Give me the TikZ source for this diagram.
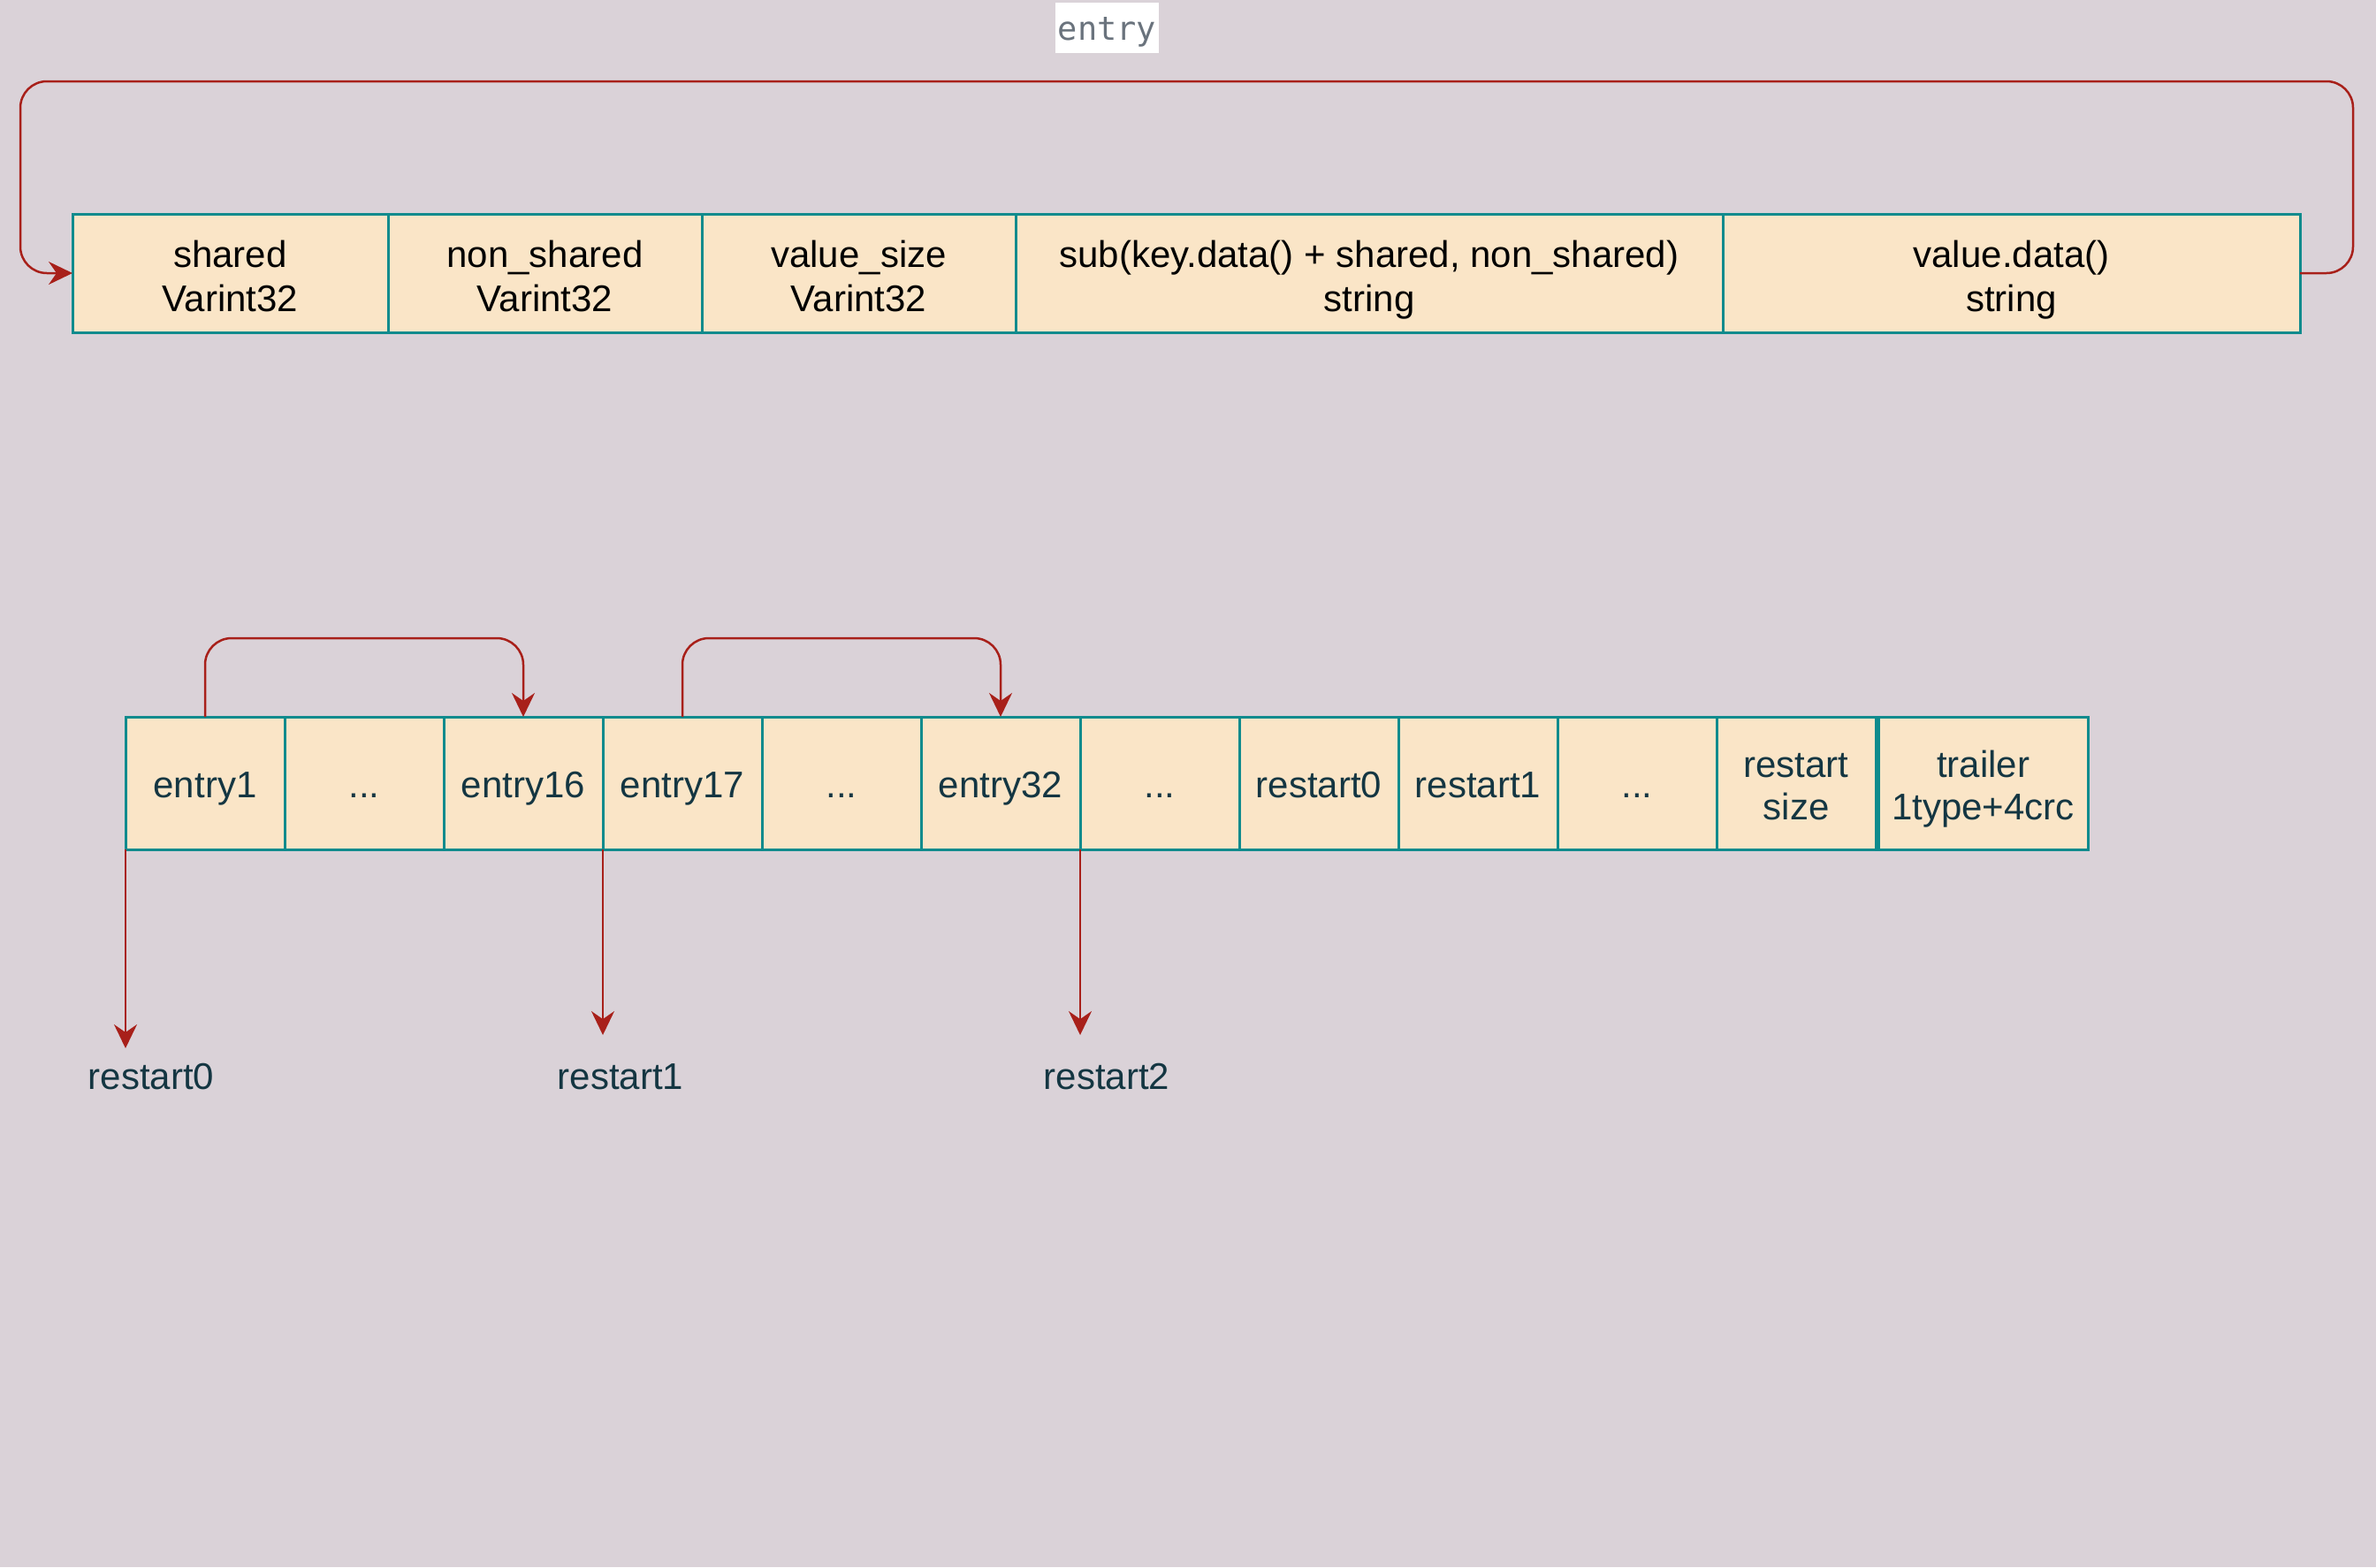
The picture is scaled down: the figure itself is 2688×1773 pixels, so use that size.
\documentclass[tikz,border=0pt]{standalone}
\usepackage{fontspec}
\setmainfont{Liberation Sans}
\newfontfamily\monofnt{DejaVu Sans Mono}
\usetikzlibrary{arrows.meta}
\definecolor{bgc}{HTML}{DAD2D8}
\definecolor{cellfill}{HTML}{FAE5C7}
\definecolor{cellline}{HTML}{0F8B8D}
\definecolor{fontc}{HTML}{143642}
\definecolor{edgec}{HTML}{A8201A}
\definecolor{monoc}{HTML}{6A737D}
\tikzset{
  cellbox/.style={rectangle, draw=cellline, fill=cellfill, line width=3pt, inner sep=0pt, outer sep=0pt,
    align=center, minimum height=#1},
  twotop/.style={font=\fontsize{42}{50}\selectfont, text height=86pt, text depth=0pt},
  twobot/.style={font=\fontsize{42}{48}\selectfont, text height=82pt, text depth=0pt},
  oneline/.style={font=\fontsize{42}{49}\selectfont, text height=32pt, text depth=0pt},
  topcell/.style={cellbox=134pt, text=black, twotop},
  botcell/.style={cellbox=150pt, text=fontc, minimum width=180pt, oneline},
  arr/.style={draw=edgec, line width=2.5pt, -{Stealth[length=27pt, width=26pt, inset=9pt]}},
  lbl/.style={text=fontc, font=\fontsize{42}{49}\selectfont, inner sep=0pt, anchor=base},
}
\begin{document}
\begin{tikzpicture}[x=1pt, y=-1pt]
\fill[bgc] (0,0) rectangle (2688,1773);
\useasboundingbox (0,0) rectangle (2688,1773);

% entry label
\node[fill=white, text=monoc, font=\monofnt\fontsize{37}{44}\selectfont, minimum width=117pt, minimum height=57pt, inner sep=0pt, text height=27pt, text depth=0pt] (lab) at (1252.5,31.5) {entry};

% top row
\node[topcell, minimum width=357pt] (shared) at (260.5,309) {shared\\Varint32};
\node[topcell, minimum width=355pt] (nonsh) at (616.5,309) {non\_shared\\Varint32};
\node[topcell, minimum width=355pt] (vsize) at (971.5,309) {value\_size\\Varint32};
\node[topcell, minimum width=800pt] (sub) at (1549,309) {sub(key.data() + shared, non\_shared)\\string};
\node[topcell, minimum width=653pt] (val) at (2275.5,309) {value.data()\\string};

\coordinate (tr) at (2662,92);
\coordinate (tl) at (23,92);
\draw[arr, rounded corners=30pt] (val.east) -| (tr) -- (tl) |- (shared.west);

% bottom row
\node[botcell] (e1)  at (232,886) {entry1};
\node[botcell] (d1)  at (412,886) {...};
\node[botcell] (e16) at (592,886) {entry16};
\node[botcell] (e17) at (772,886) {entry17};
\node[botcell] (d2)  at (952,886) {...};
\node[botcell] (e32) at (1132,886) {entry32};
\node[botcell] (d3)  at (1312,886) {...};
\node[botcell] (r0)  at (1492,886) {restart0};
\node[botcell] (r1)  at (1672,886) {restart1};
\node[botcell] (d4)  at (1852,886) {...};
\node[botcell, twobot] (rs)  at (2032,886) {restart\\size};
\node[botcell, twobot, minimum width=237pt] (tra) at (2243.5,886) {trailer\\1type+4crc};

\draw[arr, rounded corners=30pt] (e1.north) -- ++(0,-89) -| (e16.north);
\draw[arr, rounded corners=30pt] (e17.north) -- ++(0,-89) -| (e32.north);

\coordinate (a0) at (142,1186);
\coordinate (a1) at (682,1171);
\coordinate (a2) at (1222,1171);
\draw[arr] (e1.south west) -- (a0);
\draw[arr] (e17.south west) -- (a1);
\draw[arr] (d3.south west) -- (a2);

\node[lbl] (l0) at (171,1232) {restart0};
\node[lbl] (l1) at (702,1232) {restart1};
\node[lbl] (l2) at (1252,1232) {restart2};
\end{tikzpicture}
\end{document}
